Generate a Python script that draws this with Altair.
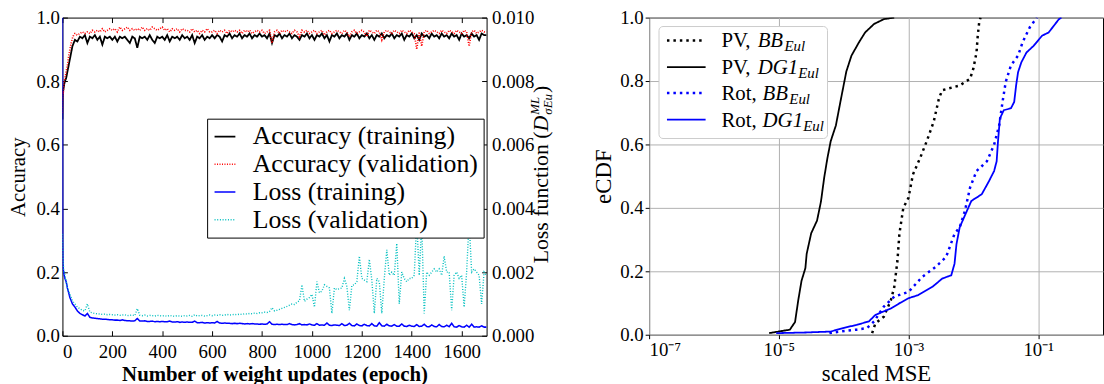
import altair as alt
import pandas as pd

# ---------------- left panel data ----------------
EPOCHS = [0, 1, 2, 3, 5, 7, 10, 15, 20, 25, 30, 35, 40, 45, 50] + list(range(60, 1701, 10))

ACC_TRAIN = [
    0.68, 0.75, 0.77, 0.77, 0.78, 0.79, 0.80, 0.81, 0.83, 0.85, 0.87, 0.89, 0.91, 0.92, 0.93,
    0.925, 0.94, 0.935, 0.945,
    0.92, 0.94, 0.935, 0.945, 0.93, 0.94, 0.915, 0.94, 0.935, 0.94,
    0.93, 0.94, 0.925, 0.94, 0.935, 0.94, 0.93, 0.92, 0.94, 0.935,
    0.905, 0.94, 0.935, 0.94, 0.93, 0.945, 0.93, 0.92, 0.94, 0.935,
    0.94, 0.93, 0.945, 0.925, 0.94, 0.935, 0.94, 0.93, 0.945, 0.935,
    0.94, 0.93, 0.945, 0.92, 0.94, 0.935, 0.945, 0.93, 0.94, 0.935,
    0.945, 0.935, 0.945, 0.94, 0.925, 0.945, 0.94, 0.95, 0.935, 0.945,
    0.94, 0.95, 0.935, 0.945, 0.94, 0.95, 0.935, 0.945, 0.94, 0.95,
    0.94, 0.945, 0.935, 0.95, 0.92, 0.945, 0.94, 0.95, 0.935, 0.945,
    0.94, 0.95, 0.935, 0.945, 0.94, 0.93, 0.945, 0.94, 0.95, 0.935,
    0.945, 0.93, 0.945, 0.94, 0.95, 0.935, 0.945, 0.925, 0.945, 0.94,
    0.95, 0.935, 0.945, 0.94, 0.95, 0.93, 0.945, 0.94, 0.95, 0.935,
    0.945, 0.94, 0.95, 0.935, 0.945, 0.93, 0.945, 0.94, 0.95, 0.935,
    0.945, 0.94, 0.95, 0.935, 0.945, 0.94, 0.95, 0.93, 0.945, 0.94,
    0.95, 0.935, 0.945, 0.93, 0.95, 0.94, 0.945, 0.935, 0.95, 0.94,
    0.945, 0.935, 0.95, 0.94, 0.945, 0.935, 0.95, 0.94, 0.945, 0.93,
    0.95, 0.94, 0.945, 0.935, 0.95, 0.94, 0.945, 0.93, 0.95, 0.945,
    0.945,
]

ACC_VAL = [
    0.70, 0.76, 0.77, 0.76, 0.78, 0.80, 0.81, 0.83, 0.85, 0.88, 0.90, 0.92, 0.935, 0.945, 0.95,
    0.945, 0.95, 0.955, 0.95,
    0.955, 0.95, 0.96, 0.955, 0.96, 0.955, 0.965, 0.955, 0.96, 0.965,
    0.96, 0.965, 0.955, 0.97, 0.96, 0.965, 0.97, 0.96, 0.965, 0.96,
    0.965, 0.96, 0.97, 0.96, 0.965, 0.96, 0.97, 0.965, 0.96, 0.965,
    0.97, 0.96, 0.965, 0.955, 0.965, 0.96, 0.965, 0.955, 0.965, 0.96,
    0.96, 0.955, 0.965, 0.955, 0.96, 0.95, 0.96, 0.955, 0.965, 0.955,
    0.955, 0.96, 0.95, 0.96, 0.955, 0.96, 0.95, 0.96, 0.955, 0.96,
    0.955, 0.96, 0.95, 0.96, 0.955, 0.96, 0.95, 0.955, 0.96, 0.955,
    0.96, 0.95, 0.955, 0.96, 0.92, 0.955, 0.96, 0.95, 0.96, 0.955,
    0.96, 0.955, 0.95, 0.96, 0.955, 0.94, 0.96, 0.955, 0.96, 0.95,
    0.955, 0.96, 0.95, 0.955, 0.96, 0.945, 0.955, 0.96, 0.95, 0.955,
    0.96, 0.955, 0.95, 0.96, 0.955, 0.94, 0.955, 0.96, 0.95, 0.955,
    0.96, 0.955, 0.94, 0.96, 0.955, 0.95, 0.96, 0.955, 0.93, 0.955,
    0.96, 0.955, 0.95, 0.96, 0.955, 0.95, 0.96, 0.955, 0.95, 0.96,
    0.955, 0.95, 0.90, 0.955, 0.91, 0.955, 0.96, 0.95, 0.955, 0.96,
    0.955, 0.95, 0.96, 0.955, 0.95, 0.96, 0.955, 0.95, 0.96, 0.955,
    0.95, 0.96, 0.955, 0.91, 0.955, 0.96, 0.95, 0.955, 0.96, 0.955,
    0.955,
]

LOSS_TRAIN = [
    0.0100, 0.0030, 0.0023, 0.0021, 0.0020, 0.0019, 0.0018, 0.0017, 0.0015, 0.00135, 0.0012, 0.0011, 0.0010, 0.00095, 0.0009,
    0.00078, 0.0007, 0.00066, 0.00062,
    0.0007, 0.00058, 0.00056, 0.00055, 0.00054, 0.00053, 0.00052, 0.00052, 0.00051, 0.0005,
    0.0005, 0.00049, 0.00049, 0.00048, 0.0005, 0.00048, 0.00047, 0.00047, 0.00046, 0.00047,
    0.00054, 0.00046, 0.00046, 0.00047, 0.00045, 0.00045, 0.00046, 0.00044, 0.00045, 0.00044,
    0.00045, 0.00044, 0.00044, 0.00046, 0.00043, 0.00043, 0.00044, 0.00042, 0.00043, 0.00042,
    0.00043, 0.00042, 0.00042, 0.00046, 0.00041, 0.00041, 0.00042, 0.0004, 0.00041, 0.0004,
    0.00041, 0.0004, 0.00045, 0.0004, 0.00039, 0.0004, 0.00039, 0.00039, 0.00038, 0.00039,
    0.00038, 0.00039, 0.00038, 0.00037, 0.00038, 0.00037, 0.00038, 0.00037, 0.00037, 0.00036,
    0.00037, 0.00036, 0.00037, 0.00044, 0.00036, 0.00035, 0.00036, 0.00035, 0.00036, 0.00035,
    0.00035, 0.00038, 0.00035, 0.00034, 0.00035, 0.00038, 0.00034, 0.00035, 0.00034, 0.00037,
    0.00034, 0.00033, 0.00038, 0.00033, 0.00034, 0.00033, 0.0004, 0.00033, 0.00032, 0.00034,
    0.00033, 0.00032, 0.00038, 0.00032, 0.00033, 0.00039, 0.00032, 0.00031, 0.00037, 0.00032,
    0.00031, 0.00036, 0.00032, 0.00031, 0.00038, 0.00031, 0.0003, 0.00041, 0.00031, 0.0003,
    0.00036, 0.00031, 0.0003, 0.00035, 0.0003, 0.0003, 0.00037, 0.0003, 0.00029, 0.00033,
    0.0003, 0.00029, 0.00035, 0.00029, 0.0003, 0.00036, 0.00029, 0.00028, 0.00034, 0.00029,
    0.00028, 0.00035, 0.00029, 0.00028, 0.00033, 0.00028, 0.00039, 0.00028, 0.00027, 0.00032,
    0.00028, 0.00027, 0.00033, 0.00027, 0.00036, 0.00027, 0.00028, 0.00027, 0.00031, 0.00027,
    0.00027,
]

LOSS_VAL = [
    0.0032, 0.0028, 0.0025, 0.0023, 0.0021, 0.0020, 0.0019, 0.0017, 0.0015, 0.0014, 0.0013, 0.0012, 0.0011, 0.00105, 0.001,
    0.0009, 0.00085, 0.0008, 0.00078,
    0.001, 0.00074, 0.00072, 0.0007, 0.00069, 0.00068, 0.00067, 0.00068, 0.00066, 0.00067,
    0.00066, 0.00065, 0.00066, 0.00064, 0.00065, 0.00066, 0.00063, 0.00064, 0.00065, 0.00063,
    0.00085, 0.00064, 0.00063, 0.00065, 0.00062, 0.00064, 0.00063, 0.00062, 0.00064, 0.00063,
    0.00062, 0.00063, 0.00061, 0.00064, 0.00062, 0.00061, 0.00063, 0.00062, 0.00061, 0.00063,
    0.00062, 0.00064, 0.00061, 0.00066, 0.00062, 0.00063, 0.00064, 0.00062, 0.00063, 0.00065,
    0.00063, 0.00065, 0.00064, 0.00066, 0.00064, 0.00065, 0.00067, 0.00065, 0.00066, 0.00067,
    0.00066, 0.00068, 0.00067, 0.00069, 0.00068, 0.0007, 0.00069, 0.00071, 0.0007, 0.00072,
    0.00072, 0.00074, 0.00073, 0.00076, 0.00088, 0.00078, 0.0008, 0.00083, 0.00086, 0.00089,
    0.00092, 0.00096, 0.001, 0.00098, 0.00105, 0.0011, 0.0016, 0.00108, 0.00115, 0.0012,
    0.0013, 0.0009, 0.0017, 0.00135, 0.0014, 0.0016, 0.00155, 0.0015, 0.0007, 0.0015,
    0.00145, 0.00148, 0.0015, 0.0018, 0.00155, 0.0008, 0.00158, 0.0016, 0.0017, 0.0025,
    0.0018, 0.00175, 0.0017, 0.0024, 0.00175, 0.0007, 0.0018, 0.0017, 0.0007, 0.0018,
    0.0027, 0.0019, 0.002, 0.0019, 0.0029, 0.001, 0.002, 0.0018, 0.0017, 0.0018,
    0.0018, 0.0019, 0.0036, 0.0019, 0.0035, 0.0007, 0.002, 0.0019, 0.002, 0.0021,
    0.002, 0.0021, 0.0019, 0.0025, 0.002, 0.002, 0.0008, 0.0019, 0.002, 0.0018,
    0.0019, 0.0009, 0.002, 0.0036, 0.002, 0.0021, 0.002, 0.0019, 0.001, 0.002,
    0.0019,
]

SERIES = ["Accuracy (training)", "Accuracy (validation)", "Loss (training)", "Loss (validation)"]
for arr in (ACC_TRAIN, ACC_VAL, LOSS_TRAIN, LOSS_VAL):
    assert len(arr) == len(EPOCHS), len(arr)

# ---------------- right panel data ----------------
PV_BB_X = [2.75e-4, 3.09e-4, 4.17e-4, 5.37e-4, 6.03e-4, 6.76e-4, 7.24e-4, 8.32e-4, 1.0e-3, 1.17e-3, 1.51e-3,
           1.91e-3, 2.45e-3, 2.95e-3, 3.31e-3, 6.17e-3, 8.91e-3, 1.0e-2, 1.12e-2, 1.17e-2, 1.23e-2, 1.29e-2]
PV_BB_Y = [0.005, 0.036, 0.057, 0.11, 0.15, 0.234, 0.318, 0.40, 0.432, 0.505, 0.557,
           0.61, 0.672, 0.745, 0.771, 0.786, 0.807, 0.839, 0.89, 0.943, 0.984, 1.0]

PV_DG_X = [7.1e-6, 1.48e-5, 1.78e-5, 2.0e-5, 2.24e-5, 2.57e-5, 2.69e-5, 3.16e-5, 3.89e-5, 4.47e-5, 5.01e-5,
           5.62e-5, 6.31e-5, 7.59e-5, 9.12e-5, 1.10e-4, 1.32e-4, 1.70e-4, 2.14e-4, 2.95e-4, 4.17e-4, 6.03e-4]
PV_DG_Y = [0.005, 0.016, 0.04, 0.11, 0.17, 0.21, 0.255, 0.32, 0.36, 0.42, 0.495,
           0.557, 0.61, 0.66, 0.745, 0.83, 0.88, 0.92, 0.953, 0.98, 0.995, 1.0]

ROT_BB_X = [6.03e-5, 8.71e-5, 1.58e-4, 2.29e-4, 2.95e-4, 4.17e-4, 6.03e-4, 1.0e-3, 1.62e-3, 2.63e-3, 3.80e-3,
            5.13e-3, 6.17e-3, 7.41e-3, 8.91e-3, 1.12e-2, 1.62e-2, 2.09e-2, 2.51e-2, 2.82e-2, 3.16e-2,
            3.80e-2, 4.90e-2, 5.75e-2, 7.41e-2, 9.55e-2]
ROT_BB_Y = [0.005, 0.01, 0.016, 0.021, 0.042, 0.089, 0.12, 0.135, 0.182, 0.214, 0.245,
            0.318, 0.339, 0.39, 0.464, 0.516, 0.547, 0.599, 0.661, 0.734, 0.797,
            0.849, 0.88, 0.922, 0.969, 1.0]

ROT_DG_X = [9.12e-6, 2.57e-5, 6.31e-5, 9.77e-5, 1.58e-4, 2.45e-4, 3.09e-4, 5.37e-4, 7.24e-4, 1.0e-3,
            1.41e-3, 2.34e-3, 3.31e-3, 4.57e-3, 5.13e-3, 5.50e-3, 6.17e-3, 7.94e-3, 9.33e-3, 1.35e-2,
            1.74e-2, 2.09e-2, 2.29e-2, 2.40e-2, 2.57e-2, 2.95e-2, 3.80e-2, 4.27e-2, 4.57e-2, 4.90e-2,
            5.50e-2, 6.61e-2, 8.51e-2, 1.15e-1, 1.45e-1, 1.74e-1, 2.09e-1, 2.29e-1]
ROT_DG_Y = [0.005, 0.007, 0.01, 0.021, 0.031, 0.042, 0.0625, 0.083, 0.099, 0.115,
            0.125, 0.151, 0.177, 0.1875, 0.224, 0.286, 0.339, 0.39, 0.422, 0.443,
            0.484, 0.516, 0.547, 0.609, 0.682, 0.708, 0.714, 0.734, 0.786, 0.828,
            0.859, 0.89, 0.911, 0.943, 0.953, 0.974, 0.995, 1.0]

FONT = "'Liberation Serif', 'Times New Roman', Times, serif"
ONE = pd.DataFrame({"k": [0]})

# ---------------- left panel ----------------
LW, LH = 428, 321
X_TICKS = [0, 200, 400, 600, 800, 1000, 1200, 1400, 1600]
ACC_TICKS = [0.0, 0.2, 0.4, 0.6, 0.8, 1.0]
LOSS_TICKS = [0.0, 0.002, 0.004, 0.006, 0.008, 0.010]

xs_left = alt.Scale(domain=[0, 1700], nice=False, zero=False)
ys_acc = alt.Scale(domain=[0, 1], nice=False)
ys_loss = alt.Scale(domain=[0, 0.01], nice=False)

leg = alt.Legend(title=None, orient="none", legendX=146, legendY=102)
color_enc = alt.Color("series:N", scale=alt.Scale(domain=SERIES, range=["#000000", "#ff0000", "#0000ff", "#00bfbf"]), legend=leg)
dash_enc = alt.StrokeDash("series:N", scale=alt.Scale(domain=SERIES, range=[[1, 0], [1, 1.5], [1, 0], [1, 1.7]]), legend=leg)
width_enc = alt.StrokeWidth("series:N", scale=alt.Scale(domain=SERIES, range=[1.8, 1.4, 2.6, 1.1]), legend=leg)


def series_df(vals, name):
    return pd.DataFrame({"epoch": EPOCHS, "value": vals, "series": name})


no_axis_title = dict(title=None, grid=False, domain=False)

l1 = alt.Chart(series_df(ACC_TRAIN, SERIES[0])).mark_line(clip=True).encode(
    x=alt.X("epoch:Q", scale=xs_left, axis=alt.Axis(values=X_TICKS, format="d", ticks=False, labelPadding=7, grid=False, domain=False,
                                                   title="Number of weight updates (epoch)", titlePadding=2, titleFontSize=21,
                                                   titleFontWeight="bold")),
    y=alt.Y("value:Q", scale=ys_acc, axis=alt.Axis(values=ACC_TICKS, format=".1f", ticks=False, labelPadding=3, grid=False,
                                                  domain=False, title="Accuracy", titleFontSize=21, titlePadding=8)),
    color=color_enc, strokeDash=dash_enc, strokeWidth=width_enc,
)
l2 = alt.Chart(series_df(ACC_VAL, SERIES[1])).mark_line(clip=True).encode(
    x=alt.X("epoch:Q", scale=xs_left, axis=alt.Axis(values=X_TICKS, orient="bottom", offset=-5, tickSize=5, labels=False, **no_axis_title)),
    y=alt.Y("value:Q", scale=ys_acc, axis=alt.Axis(values=ACC_TICKS, orient="left", offset=-5, tickSize=5, labels=False, **no_axis_title)),
    color=color_enc, strokeDash=dash_enc, strokeWidth=width_enc,
)
l3 = alt.Chart(series_df(LOSS_TRAIN, SERIES[2])).mark_line(clip=True).encode(
    x=alt.X("epoch:Q", scale=xs_left, axis=alt.Axis(values=X_TICKS, orient="top", offset=-5, tickSize=5, labels=False, **no_axis_title)),
    y=alt.Y("value:Q", scale=ys_loss, axis=alt.Axis(values=LOSS_TICKS, orient="right", format=".3f", ticks=False, labelPadding=5, **no_axis_title)),
    color=color_enc, strokeDash=dash_enc, strokeWidth=width_enc,
)
l4 = alt.Chart(series_df(LOSS_VAL, SERIES[3])).mark_line(clip=True).encode(
    x=alt.X("epoch:Q", scale=xs_left, axis=None),
    y=alt.Y("value:Q", scale=ys_loss, axis=alt.Axis(values=LOSS_TICKS, orient="right", offset=-5, tickSize=5, labels=False, **no_axis_title)),
    color=color_enc, strokeDash=dash_enc, strokeWidth=width_enc,
)


def vtext(text, x, y, size, italic=False):
    return alt.Chart(ONE).mark_text(text=text, angle=270, align="left", baseline="alphabetic", font=FONT,
                                    fontSize=size, fontStyle="italic" if italic else "normal", color="black").encode(
        x=alt.value(x), y=alt.value(y))


TBX = LW + 62
loss_title = [
    vtext("Loss function (", TBX, 248, 22),
    vtext("D", TBX, 115, 22, True),
    vtext("ML", TBX - 9, 98, 13, True),
    vtext("σEu", TBX + 4, 98, 13, True),
    vtext(")", TBX, 76, 22),
]

left = alt.layer(l1, l2, l3, l4, *loss_title).resolve_scale(y="independent").resolve_axis(
    x="independent", y="independent").properties(width=LW, height=LH)

# ---------------- right panel ----------------
RW, RH = 458, 320
xs_r = alt.Scale(type="log", domain=[1e-7, 1], nice=False)
ys_r = alt.Scale(domain=[0, 1], nice=False)
label_expr = ("datum.value < 1e-6 ? '10⁻⁷' : datum.value < 1e-4 ? '10⁻⁵' : "
              "datum.value < 1e-2 ? '10⁻³' : '10⁻¹'")
ax_x = alt.Axis(values=[1e-7, 1e-5, 1e-3, 1e-1], labelExpr=label_expr, tickSize=4, labelPadding=2, grid=True,
                gridColor="#b0b0b0", domain=False, title="scaled MSE", titlePadding=3)
ax_y = alt.Axis(values=ACC_TICKS, format=".1f", tickSize=4, labelPadding=2, grid=True, gridColor="#b0b0b0",
                domain=False, title="eCDF", titlePadding=4)

R_SERIES = [
    (PV_BB_X, PV_BB_Y, "black", [2.5, 4], 2.5),
    (PV_DG_X, PV_DG_Y, "black", [1, 0], 1.8),
    (ROT_BB_X, ROT_BB_Y, "#0000ff", [2.5, 4], 2.5),
    (ROT_DG_X, ROT_DG_Y, "#0000ff", [1, 0], 1.8),
]
r_layers = []
for xv, yv, col, dash, w in R_SERIES:
    df = pd.DataFrame({"x": xv, "y": yv, "i": list(range(len(xv)))})
    r_layers.append(alt.Chart(df).mark_line(color=col, strokeDash=dash, strokeWidth=w, clip=True).encode(
        x=alt.X("x:Q", scale=xs_r, axis=ax_x), y=alt.Y("y:Q", scale=ys_r, axis=ax_y), order="i:Q"))

# custom legend (needs subscripts)
r_layers.append(alt.Chart(ONE).mark_rect(fill="white", stroke="#cccccc", strokeWidth=1, cornerRadius=4).encode(
    x=alt.value(10), x2=alt.value(180), y=alt.value(9), y2=alt.value(122)))
LEG_ROWS = [23, 50, 76, 103]
LEG_MAIN = ["PV, ", "PV, ", "Rot, ", "Rot, "]
LEG_IT = ["BB", "DG1", "BB", "DG1"]
MAIN_W = {"PV, ": 36.5, "Rot, ": 41.5}
IT_W = {"BB": 26, "DG1": 40}
for k, (xv, yv, col, dash, w) in enumerate(R_SERIES):
    ry = LEG_ROWS[k]
    r_layers.append(alt.Chart(ONE).mark_rule(color=col, strokeDash=dash, strokeWidth=w).encode(
        x=alt.value(18), x2=alt.value(57), y=alt.value(ry)))
    x0 = 73
    x1 = x0 + MAIN_W[LEG_MAIN[k]]
    x2 = x1 + IT_W[LEG_IT[k]] + 1
    r_layers.append(alt.Chart(ONE).mark_text(text=LEG_MAIN[k], align="left", baseline="alphabetic", font=FONT,
                                             fontSize=21, color="black").encode(x=alt.value(x0), y=alt.value(ry + 7)))
    r_layers.append(alt.Chart(ONE).mark_text(text=LEG_IT[k], align="left", baseline="alphabetic", font=FONT,
                                             fontSize=21, fontStyle="italic", color="black").encode(x=alt.value(x1), y=alt.value(ry + 7)))
    r_layers.append(alt.Chart(ONE).mark_text(text="Eul", align="left", baseline="alphabetic", font=FONT,
                                             fontSize=15, fontStyle="italic", color="black").encode(x=alt.value(x2), y=alt.value(ry + 11)))

right = alt.layer(*r_layers).properties(width=RW, height=RH)

chart = alt.hconcat(left, right, spacing=36).properties(
    padding={"left": 6, "top": 6, "right": 0, "bottom": 0}
).configure_axis(
    labelFont=FONT, labelFontSize=19, labelColor="black", titleFont=FONT, titleFontSize=23,
    titleFontWeight="normal", titleColor="black", tickColor="black"
).configure_view(stroke="black", strokeWidth=1).configure_legend(
    labelFont=FONT, labelFontSize=26, labelColor="black", strokeColor="black", fillColor="white",
    padding=5, rowPadding=2, symbolType="stroke", symbolSize=441, labelOffset=15, cornerRadius=0,
    labelLimit=400
)

chart.save("out.html", embed_options={"renderer": "svg", "actions": False})
